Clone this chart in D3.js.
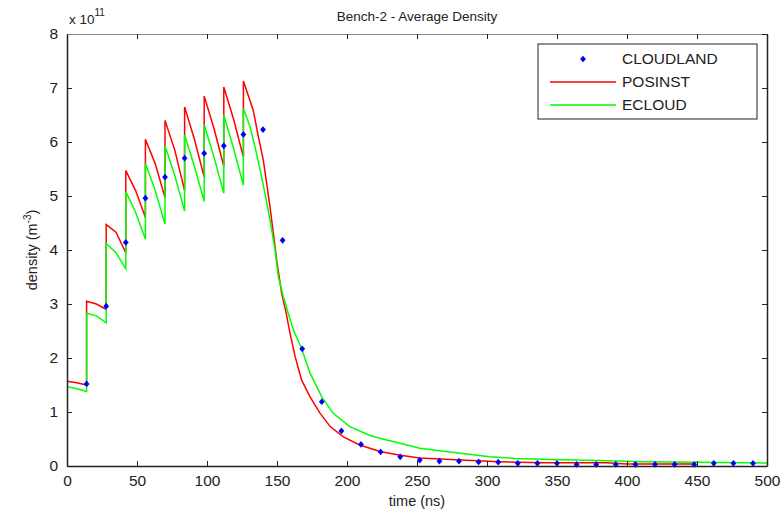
<!DOCTYPE html>
<html>
<head>
<meta charset="utf-8">
<script src="https://cdn.jsdelivr.net/npm/d3@7"></script>
<style>
	body { margin: 0; background: #fff; }
	text { font-family: "Liberation Sans", Arial, sans-serif; fill: #222; }
</style>
</head>
<body>
<svg id="chart" width="783" height="513"></svg>
<script>
// CLOUDLAND points (ns, 1e11 m^-3)
const cloudTime = [14, 28, 42, 56, 70, 84, 98, 112, 126, 140, 154, 168, 182, 196, 210, 224, 238, 252,
	266, 280, 294, 308, 322, 336, 350, 364, 378, 392, 406, 420, 434, 448, 462, 476, 490];
const cloudDens = [1.52, 2.96, 4.14, 4.96, 5.35, 5.70, 5.79, 5.93, 6.14, 6.23, 4.18, 2.17, 1.19, 0.65, 0.40,
	0.26, 0.17, 0.11, 0.09, 0.09, 0.075, 0.07, 0.05, 0.05, 0.05, 0.03, 0.03, 0.03, 0.03, 0.03, 0.03, 0.03,
	0.05, 0.05, 0.05];

// POSINST curve
const posTime = [0, 7, 14, 14, 21, 28, 28, 35, 42, 42, 49, 56, 56, 63, 70, 70, 77, 84, 84, 91, 98, 98, 105,
	112, 112, 119, 126, 126, 129, 133, 136.7, 140.2, 142.6, 145, 147.4, 149.8, 153.3, 156.4, 159.3, 163,
	167.6, 173.6, 180.7, 188, 197.4, 209, 223.6, 238, 252, 273.6, 309, 340, 385, 400, 448];
const posDens = [1.57, 1.54, 1.50, 3.05, 3.00, 2.90, 4.47, 4.33, 3.95, 5.47, 5.10, 4.60, 6.05, 5.60, 4.97,
	6.40, 5.85, 5.10, 6.65, 6.05, 5.35, 6.85, 6.25, 5.55, 7.02, 6.42, 5.72, 7.13, 6.90, 6.59, 6.10, 5.67,
	5.24, 4.80, 4.31, 3.81, 3.20, 2.85, 2.46, 2.02, 1.59, 1.28, 0.98, 0.73, 0.54, 0.39, 0.27, 0.20, 0.15,
	0.12, 0.08, 0.06, 0.06, 0.035, 0.035];

// ECLOUD curve
const ecTime = [0, 7, 14, 14, 21, 28, 28, 35, 42, 42, 49, 56, 56, 63, 70, 70, 77, 84, 84, 91, 98, 98, 105,
	112, 112, 119, 126, 126, 128.5, 130.7, 134.3, 138, 141.4, 145, 148.6, 151, 154.5, 158, 161.7, 167.6,
	173.6, 182, 190, 202, 216, 224, 238, 252, 273.6, 302, 320, 345, 380, 410, 450, 500];
const ecDens = [1.47, 1.43, 1.38, 2.83, 2.78, 2.65, 4.12, 3.95, 3.65, 5.08, 4.70, 4.20, 5.60, 5.10, 4.48,
	5.93, 5.38, 4.72, 6.13, 5.55, 4.90, 6.32, 5.72, 5.05, 6.50, 5.88, 5.20, 6.62, 6.45, 6.28, 5.91, 5.48,
	5.05, 4.56, 4.00, 3.50, 3.14, 2.83, 2.52, 2.17, 1.72, 1.28, 0.98, 0.73, 0.57, 0.51, 0.42, 0.33, 0.26,
	0.17, 0.14, 0.12, 0.10, 0.08, 0.07, 0.055];

const xTicks = [0, 50, 100, 150, 200, 250, 300, 350, 400, 450, 500];
const yTicks = [0, 1, 2, 3, 4, 5, 6, 7, 8];

const svg = d3.select("#chart");
const margin = { top: 34, right: 16, bottom: 47, left: 67 };
const width = 783 - margin.left - margin.right;
const height = 513 - margin.top - margin.bottom;

const x = d3.scaleLinear().domain([0, 500]).range([0, width]);
const y = d3.scaleLinear().domain([0, 8]).range([height, 0]);

const g = svg.append("g").attr("transform", `translate(${margin.left}, ${margin.top})`);

// Data lines
const line = d3.line()
	.x((d) => x(d[0]))
	.y((d) => y(d[1]));

g.append("path")
	.datum(d3.zip(posTime, posDens))
	.attr("fill", "none")
	.attr("stroke", "#ff0000")
	.attr("stroke-width", 1.5)
	.attr("d", line);

g.append("path")
	.datum(d3.zip(ecTime, ecDens))
	.attr("fill", "none")
	.attr("stroke", "#00ff00")
	.attr("stroke-width", 1.5)
	.attr("d", line);

const diamond = d3.symbol().type(d3.symbolDiamond).size(13);
g.selectAll(".pt")
	.data(d3.zip(cloudTime, cloudDens))
	.enter()
	.append("path")
	.attr("class", "pt")
	.attr("d", diamond)
	.attr("transform", (d) => `translate(${x(d[0])}, ${y(d[1])}) scale(1.5, 1)`)
	.attr("fill", "#0000ff");

// Axes (ticks inward, box on all sides)
const styleAxis = (sel) => {
	sel.select(".domain").attr("stroke", "#222").attr("stroke-width", 1.5);
	sel.selectAll(".tick line").attr("stroke", "#222");
	sel.selectAll("text").attr("font-size", 15.5).attr("fill", "#222");
};

g.append("g")
	.attr("transform", `translate(0, ${height})`)
	.call(d3.axisBottom(x).tickValues(xTicks).tickSizeInner(-5).tickSizeOuter(0).tickPadding(9))
	.call(styleAxis);

g.append("g")
	.call(d3.axisLeft(y).tickValues(yTicks).tickSizeInner(-5).tickSizeOuter(0).tickPadding(9))
	.call(styleAxis);

g.append("g")
	.call(d3.axisTop(x).tickValues(xTicks).tickSizeInner(-5).tickSizeOuter(0).tickFormat(""))
	.call(styleAxis)
	.select(".domain").attr("stroke", "#888").attr("stroke-width", 1);

g.append("g")
	.attr("transform", `translate(${width}, 0)`)
	.call(d3.axisRight(y).tickValues(yTicks).tickSizeInner(-5).tickSizeOuter(0).tickFormat(""))
	.call(styleAxis);

// Titles
svg.append("text")
	.attr("x", margin.left + width / 2)
	.attr("y", 21)
	.attr("text-anchor", "middle")
	.attr("font-size", 13.5)
	.text("Bench-2 - Average Density");

const expo = svg.append("text").attr("x", 69).attr("y", 24).attr("font-size", 13.5);
expo.append("tspan").text("x 10");
expo.append("tspan").attr("dy", -8).attr("font-size", 10).text("11");

svg.append("text")
	.attr("x", margin.left + width / 2)
	.attr("y", 506)
	.attr("text-anchor", "middle")
	.attr("font-size", 14.5)
	.text("time (ns)");

const ylab = svg.append("text")
	.attr("transform", `translate(37, ${margin.top + height / 2}) rotate(-90)`)
	.attr("text-anchor", "middle")
	.attr("font-size", 14.5);
ylab.append("tspan").text("density (m");
ylab.append("tspan").attr("dy", -6).attr("font-size", 10).text("-3");
ylab.append("tspan").attr("dy", 6).text(")");

// Legend
const legend = svg.append("g").attr("transform", "translate(538, 44)");
legend.append("rect")
	.attr("width", 219)
	.attr("height", 75)
	.attr("fill", "#fff")
	.attr("stroke", "#222")
	.attr("stroke-width", 1);

const legendItems = ["CLOUDLAND", "POSINST", "ECLOUD"];
const legendColors = ["#0000ff", "#ff0000", "#00ff00"];
legendItems.forEach((name, i) => {
	const ly = 15 + i * 23;
	if (i === 0) {
		legend.append("path")
			.attr("d", diamond)
			.attr("transform", `translate(45, ${ly}) scale(1.5, 1)`)
			.attr("fill", legendColors[i]);
	} else {
		legend.append("line")
			.attr("x1", 12).attr("x2", 78)
			.attr("y1", ly).attr("y2", ly)
			.attr("stroke", legendColors[i])
			.attr("stroke-width", 1.5);
	}
	legend.append("text")
		.attr("x", 84)
		.attr("y", ly + 5)
		.attr("font-size", 15.5)
		.text(name);
});
</script>
</body>
</html>
